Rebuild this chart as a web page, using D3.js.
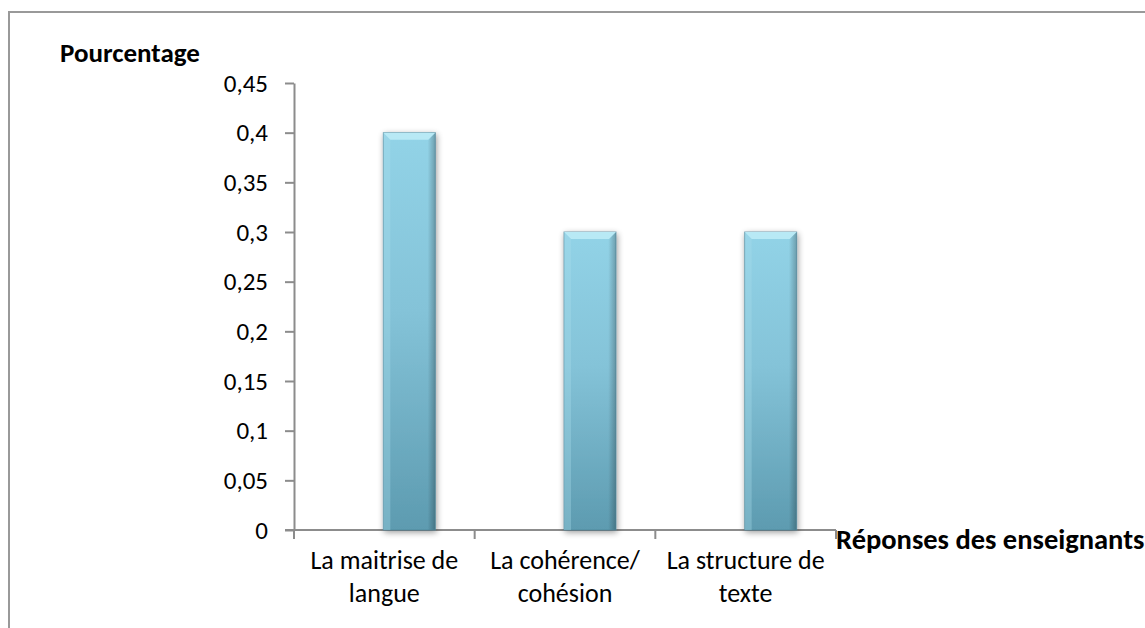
<!DOCTYPE html>
<html>
<head>
<meta charset="utf-8">
<script src="https://cdn.jsdelivr.net/npm/d3@7"></script>
<style>
  body { margin: 0; background: #fff; }
  svg { display: block; font-family: Carlito, Lato, "Open Sans", sans-serif; }
</style>
</head>
<body>
<svg id="chart" width="1145" height="628"></svg>
<script>
// Réponses des enseignants — pourcentage par critère
const categories = [["La maitrise de", "langue"], ["La cohérence/", "cohésion"], ["La structure de", "texte"]];
const values = [0.4, 0.3, 0.3];
const yTicks = [0, 0.05, 0.1, 0.15, 0.2, 0.25, 0.3, 0.35, 0.4, 0.45];
const yTitle = "Pourcentage";
const xTitle = "Réponses des enseignants";

const FONT = "Carlito, Lato, 'Open Sans', sans-serif";
const svg = d3.select("#chart");

// outer frame of the chart area
svg.append("rect")
  .attr("x", 9).attr("y", 12).attr("width", 1160).attr("height", 640)
  .attr("fill", "#fff").attr("stroke", "#999").attr("stroke-width", 2);

const x0 = 294, x1 = 836, yTop = 83, yBot = 530;
const x = d3.scaleBand().domain(d3.range(categories.length)).range([x0, x1]).padding(0);
const y = d3.scaleLinear().domain([0, 0.45]).range([yBot, yTop]);

const defs = svg.append("defs");
const grad = defs.append("linearGradient").attr("id", "barGrad")
  .attr("x1", 0).attr("y1", 0).attr("x2", 0).attr("y2", 1);
grad.append("stop").attr("offset", "0%").attr("stop-color", "#92d3e7");
grad.append("stop").attr("offset", "45%").attr("stop-color", "#84c3d8");
grad.append("stop").attr("offset", "100%").attr("stop-color", "#5d9bb0");

const side = defs.append("linearGradient").attr("id", "sideGrad")
  .attr("x1", 0).attr("y1", 0).attr("x2", 1).attr("y2", 0);
side.append("stop").attr("offset", "0%").attr("stop-color", "#000").attr("stop-opacity", 0.0);
side.append("stop").attr("offset", "85%").attr("stop-color", "#000").attr("stop-opacity", 0.0);
side.append("stop").attr("offset", "100%").attr("stop-color", "#000").attr("stop-opacity", 0.25);

const shadow = defs.append("filter").attr("id", "shadow")
  .attr("x", "-30%").attr("y", "-10%").attr("width", "160%").attr("height", "120%");
shadow.append("feGaussianBlur").attr("in", "SourceAlpha").attr("stdDeviation", 3).attr("result", "b");
shadow.append("feOffset").attr("in", "b").attr("dx", 1).attr("dy", 2).attr("result", "o");
shadow.append("feComponentTransfer").attr("in", "o").attr("result", "s")
  .append("feFuncA").attr("type", "linear").attr("slope", 0.4);
const merge = shadow.append("feMerge");
merge.append("feMergeNode").attr("in", "s");
merge.append("feMergeNode").attr("in", "SourceGraphic");

// y axis
const yAxis = d3.axisLeft(y).tickValues(yTicks).tickSize(9).tickSizeOuter(0)
  .tickFormat(d => d3.format("")(d).replace(".", ","));
const gy = svg.append("g").attr("transform", `translate(${x0},0)`).call(yAxis);
gy.select(".domain").attr("stroke", "#8c8c8c").attr("stroke-width", 2);
gy.selectAll(".tick line").attr("stroke", "#8c8c8c").attr("stroke-width", 2);
gy.selectAll(".tick text").attr("x", -26).attr("font-size", 25).attr("fill", "#000")
  .attr("font-family", FONT);

// x axis
const gx = svg.append("g").attr("transform", `translate(0,${yBot})`);
gx.append("line").attr("x1", x0 - 9).attr("x2", x1).attr("stroke", "#8c8c8c").attr("stroke-width", 2);
const boundaries = d3.range(categories.length + 1).map(i => i < categories.length ? x(i) : x1);
gx.selectAll("line.tk").data(boundaries).join("line").attr("class", "tk")
  .attr("x1", d => d).attr("x2", d => d).attr("y1", 0).attr("y2", 9)
  .attr("stroke", "#8c8c8c").attr("stroke-width", 2);

// bars (drawn offset inside each band, with a bevelled top)
const barW = 52, barOff = 25;
const bars = svg.append("g").selectAll("g").data(values).join("g").attr("filter", "url(#shadow)");
bars.append("rect")
  .attr("x", (d, i) => x(i) + x.bandwidth() / 2 + barOff - barW / 2)
  .attr("y", d => y(d)).attr("width", barW).attr("height", d => yBot - y(d))
  .attr("fill", "url(#barGrad)");
bars.append("rect")
  .attr("x", (d, i) => x(i) + x.bandwidth() / 2 + barOff - barW / 2)
  .attr("y", d => y(d)).attr("width", barW).attr("height", d => yBot - y(d))
  .attr("fill", "url(#sideGrad)").attr("stroke", "#4f8599").attr("stroke-opacity", 0.7).attr("stroke-width", 1);
const bev = 7;
bars.append("path")
  .attr("d", (d, i) => {
    const l = x(i) + x.bandwidth() / 2 + barOff - barW / 2, r = l + barW, t = y(d);
    return `M${l},${t}L${r},${t}L${r - bev},${t + bev}L${l + bev},${t + bev}Z`;
  })
  .attr("fill", "#b8e9f5");
bars.append("path")
  .attr("d", (d, i) => {
    const l = x(i) + x.bandwidth() / 2 + barOff - barW / 2, t = y(d);
    return `M${l},${t}L${l + bev},${t + bev}L${l + bev},${yBot}L${l},${yBot}Z`;
  })
  .attr("fill", "#a8dcea").attr("opacity", 0.35);

// category labels, two lines each
const lab = svg.append("g").selectAll("g").data(categories).join("g");
lab.each(function(d, i) {
  const g = d3.select(this);
  d.forEach((line, k) => g.append("text")
    .attr("text-anchor", "middle").attr("font-size", 26).attr("fill", "#000")
    .attr("x", x(i) + x.bandwidth() / 2).attr("y", 569 + k * 33).text(line));
});

// axis titles
svg.append("text").attr("x", 60).attr("y", 62).attr("font-size", 27).attr("font-weight", "bold")
  .attr("fill", "#000").text(yTitle);
svg.append("text").attr("x", 836).attr("y", 549).attr("font-size", 28.5).attr("font-weight", "bold")
  .attr("fill", "#000").text(xTitle);
</script>
</body>
</html>
